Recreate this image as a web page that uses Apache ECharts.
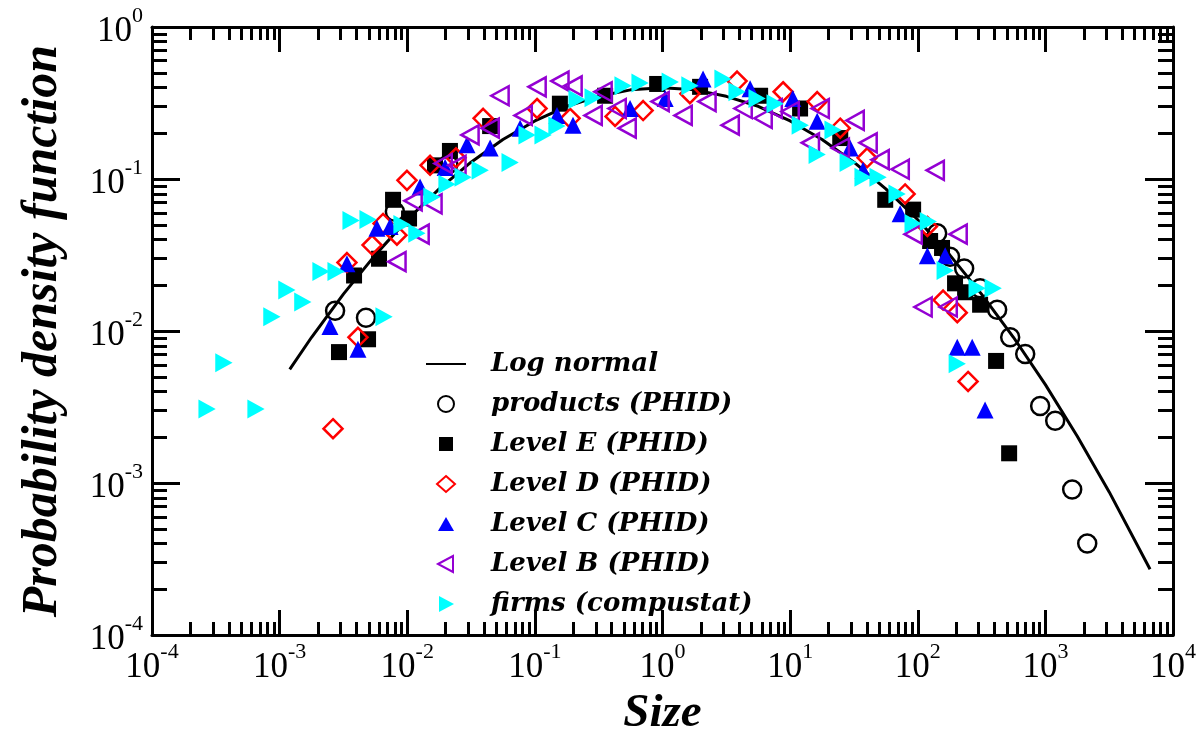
<!DOCTYPE html>
<html>
<head>
<meta charset="utf-8">
<script src="https://cdn.jsdelivr.net/npm/echarts@6/dist/echarts.min.js"></script>
<style>
html,body{margin:0;padding:0;background:#fff;}
#chart{width:1204px;height:742px;}
</style>
</head>
<body>
<div id="chart"></div>
<script>
// ---- tick values / labels ----
var xMajorTicks = [1e-4, 1e-3, 1e-2, 1e-1, 1, 10, 100, 1000, 10000];
var xTickExps = ['-4', '-3', '-2', '-1', '0', '1', '2', '3', '4'];
var yMajorTicks = [1e-4, 1e-3, 1e-2, 1e-1, 1];
var yTickExps = ['-4', '-3', '-2', '-1', '0'];
var minorMultipliers = [2, 3, 4, 5, 6, 7, 8, 9];

// ---- series values [size, pdf] ----
var logNormalData = [
  [0.0012, 0.0056], [0.00178, 0.0091], [0.00316, 0.0175], [0.00562, 0.0317], [0.01, 0.054],
  [0.0178, 0.0861], [0.0316, 0.129], [0.0562, 0.182], [0.1, 0.241], [0.178, 0.301],
  [0.316, 0.35], [0.562, 0.386], [1, 0.398], [1.78, 0.386], [3.16, 0.35], [5.62, 0.301],
  [10, 0.241], [17.8, 0.182], [31.6, 0.129], [56.2, 0.0861], [100, 0.054], [178, 0.0317],
  [316, 0.0175], [562, 0.0091], [1000, 0.00444], [1778, 0.00203], [3162, 0.000875], [6607, 0.000271]
];
var productsData = [
  [0.00272, 0.0136], [0.00475, 0.01225], [0.008, 0.061], [0.021, 0.125],
  [142, 0.044], [179, 0.0308], [231, 0.0258], [308, 0.0191],
  [419, 0.0138], [530, 0.0091], [695, 0.00706], [910, 0.00321], [1194, 0.00257],
  [1622, 0.000906], [2128, 0.0004]
];
var levelEData = [
  [0.00292, 0.00727], [0.00493, 0.00883], [0.00383, 0.0232], [0.00601, 0.0299],
  [0.00774, 0.073], [0.01033, 0.055], [0.0165, 0.123], [0.0216, 0.153], [0.0446, 0.223],
  [0.157, 0.313], [0.355, 0.353], [0.908, 0.422], [1.97, 0.404], [5.82, 0.353],
  [11.97, 0.291], [24.7, 0.186], [55.6, 0.073], [92, 0.0629], [125, 0.0391], [155, 0.0352],
  [196, 0.0206], [235, 0.018], [308, 0.0149], [411, 0.00636], [520, 0.00157]
];
var levelDData = [
  [0.00262, 0.00228], [0.00411, 0.0091], [0.00337, 0.0282], [0.0053, 0.0368],
  [0.00646, 0.051], [0.0083, 0.0427], [0.00995, 0.098], [0.0151, 0.123], [0.0241, 0.138],
  [0.0393, 0.251], [0.104, 0.291], [0.189, 0.251], [0.425, 0.258], [0.705, 0.282],
  [1.64, 0.364], [3.84, 0.441], [8.81, 0.375], [16.3, 0.323], [24.7, 0.216], [40.1, 0.138],
  [79.6, 0.0798], [119, 0.0488], [158, 0.016], [204, 0.0132], [248, 0.00466]
];
var levelCData = [
  [0.00248, 0.0107], [0.00411, 0.0076], [0.00337, 0.0277], [0.00579, 0.0474],
  [0.00733, 0.0488], [0.0126, 0.0885], [0.0198, 0.119], [0.0294, 0.168], [0.0446, 0.16],
  [0.0766, 0.216], [0.149, 0.262], [0.199, 0.226], [0.557, 0.291], [1.05, 0.338],
  [2.08, 0.455], [4.86, 0.392], [10.5, 0.338], [16.3, 0.24], [29.5, 0.16], [37.3, 0.114],
  [72.8, 0.0592], [119, 0.0313], [164, 0.0313], [204, 0.00783], [267, 0.00783], [337, 0.00303]
];
var levelBData = [
  [0.0083, 0.0286], [0.0126, 0.0434], [0.0111, 0.0719], [0.0159, 0.0687], [0.0191, 0.1265],
  [0.0245, 0.123], [0.031, 0.195], [0.0446, 0.216], [0.0533, 0.353], [0.0809, 0.262],
  [0.104, 0.404], [0.157, 0.441], [0.199, 0.41], [0.286, 0.262], [0.342, 0.375],
  [0.441, 0.291], [0.528, 0.216], [0.957, 0.323], [1.45, 0.262], [2.23, 0.323],
  [3.39, 0.226], [4.28, 0.291], [6.14, 0.251], [7.36, 0.291], [10.0, 0.278], [14.4, 0.173],
  [17.2, 0.291], [24.7, 0.16], [32.3, 0.243], [40.8, 0.173], [50.7, 0.134], [72.8, 0.116],
  [137, 0.114], [92, 0.0434], [207, 0.0434], [110, 0.0144], [173, 0.0144]
];
var firmsData = [
  [0.00027, 0.00307], [0.000366, 0.00618], [0.000653, 0.00307], [0.00087, 0.0124],
  [0.00114, 0.0186], [0.00152, 0.0155], [0.00211, 0.0246], [0.00277, 0.0246],
  [0.00363, 0.0534], [0.00493, 0.0542], [0.00658, 0.0124], [0.0091, 0.0503], [0.0119, 0.044],
  [0.0156, 0.0763], [0.0205, 0.0925], [0.0274, 0.1027], [0.0373, 0.114], [0.064, 0.1284],
  [0.0869, 0.195], [0.116, 0.195], [0.149, 0.223], [0.214, 0.333], [0.286, 0.343],
  [0.491, 0.41], [0.667, 0.428], [1.15, 0.435], [1.64, 0.41], [2.98, 0.455], [3.84, 0.375],
  [5.51, 0.338], [7.63, 0.313], [12.0, 0.226], [16.3, 0.145], [21.7, 0.21], [28.5, 0.1284],
  [37.3, 0.1027], [48.9, 0.1027], [68.9, 0.0798], [92, 0.051], [121, 0.0526], [164, 0.025],
  [204, 0.00609], [292, 0.0191], [390, 0.0191]
];

// minor tick positions built from the decade ticks
function minorTicks(majors) {
  var out = [];
  for (var i = 0; i < majors.length - 1; i++) {
    for (var j = 0; j < minorMultipliers.length; j++) out.push(majors[i] * minorMultipliers[j]);
  }
  return out;
}
var xMinorTicks = minorTicks(xMajorTicks);
var yMinorTicks = minorTicks(yMajorTicks);

var SERIF = "'Liberation Serif', 'Times New Roman', serif";
var richLabel = {
  b: { fontFamily: SERIF, fontSize: 35, lineHeight: 44, verticalAlign: 'bottom', color: '#000' },
  s: { fontFamily: SERIF, fontSize: 22, lineHeight: 22, verticalAlign: 'top', color: '#000' }
};
function xFmt(v) { var i = xMajorTicks.indexOf(v); var e = i >= 0 ? xTickExps[i] : String(Math.round(Math.log10(v))); return '{b|10}{s|' + e + '}'; }
function yFmt(v) { var i = yMajorTicks.indexOf(v); var e = i >= 0 ? yTickExps[i] : String(Math.round(Math.log10(v))); return '{b|10}{s|' + e + '}'; }

function makeX(pos, major, withLabel) {
  return {
    type: 'log', logBase: 10, min: 1e-4, max: 1e4, position: pos, gridIndex: 0,
    splitNumber: 8,
    axisLine: { show: major, lineStyle: { color: '#000', width: 3 } },
    axisTick: { show: true, inside: true, length: major ? 25 : 13,
      customValues: major ? xMajorTicks : xMinorTicks,
      lineStyle: { color: '#000', width: 3 } },
    axisLabel: withLabel ? { show: true, customValues: xMajorTicks, formatter: xFmt, rich: richLabel, margin: 6 } : { show: false },
    splitLine: { show: false },
    name: withLabel ? 'Size' : '',
    nameLocation: 'middle', nameGap: 46,
    nameTextStyle: { fontFamily: SERIF, fontStyle: 'italic', fontWeight: 'bold', fontSize: 47, color: '#000' }
  };
}
function makeY(pos, major, withLabel) {
  return {
    type: 'log', logBase: 10, min: 1e-4, max: 1, position: pos, gridIndex: 0,
    splitNumber: 4,
    axisLine: { show: major, lineStyle: { color: '#000', width: 3 } },
    axisTick: { show: true, inside: true, length: major ? 28 : 15,
      customValues: major ? yMajorTicks : yMinorTicks,
      lineStyle: { color: '#000', width: 3 } },
    axisLabel: withLabel ? { show: true, customValues: yMajorTicks, formatter: yFmt, rich: richLabel, margin: 9 } : { show: false },
    splitLine: { show: false },
    name: withLabel ? 'Probability density function' : '',
    nameLocation: 'middle', nameGap: 84, nameRotate: 90,
    nameTextStyle: { fontFamily: SERIF, fontStyle: 'italic', fontWeight: 'bold', fontSize: 50, color: '#000' }
  };
}

var TRI_LEFT = 'path://M10,0L0,5.5L10,11Z';
var TRI_RIGHT = 'path://M0,0L10,5.5L0,11Z';

// legend icons: same shapes drawn inside a 40x16 box so they are not stretched
var LEG_RECT = 'path://M0,0M40,16M13,1L27,1L27,15L13,15Z';
var LEG_DIAMOND = 'path://M0,0M40,16M20,0L29,8L20,16L11,8Z';
var LEG_TRI_UP = 'path://M0,0M40,16M20,1L28,15L12,15Z';
var LEG_TRI_LEFT = 'path://M0,0M40,16M12,8L27,0L27,16Z';
var LEG_TRI_RIGHT = 'path://M0,0M40,16M13,0L28,8L13,16Z';

function scat(name, data, symbol, size, color, hollow) {
  return {
    name: name, type: 'scatter', data: data, symbol: symbol, symbolSize: size,
    symbolKeepAspect: true,
    xAxisIndex: 0, yAxisIndex: 0, z: 2,
    itemStyle: hollow ? { color: 'rgba(0,0,0,0)', borderColor: color, borderWidth: 2.5, opacity: 1 }
                      : { color: color, opacity: 1 },
    emphasis: { disabled: true }
  };
}

var chart = echarts.init(document.getElementById('chart'), null, { renderer: 'canvas' });
chart.setOption({
  animation: false,
  backgroundColor: '#fff',
  grid: { left: 152, right: 31, top: 27, bottom: 96, containLabel: false },
  xAxis: [makeX('bottom', true, true), makeX('bottom', false, false), makeX('top', true, false), makeX('top', false, false)],
  yAxis: [makeY('left', true, true), makeY('left', false, false), makeY('right', true, false), makeY('right', false, false)],
  legend: {
    orient: 'vertical', left: 420, top: 344,
    itemWidth: 40, itemHeight: 16, itemGap: 10,
    textStyle: { fontFamily: "'DejaVu Serif', serif", fontStyle: 'italic', fontWeight: 'bold', fontSize: 26, lineHeight: 30, color: '#000', padding: [0, 0, 0, 20] },
    data: [
      { name: 'Log normal', itemStyle: { opacity: 0 } },
      'products (PHID)',
      { name: 'Level E (PHID)', icon: LEG_RECT },
      { name: 'Level D (PHID)', icon: LEG_DIAMOND },
      { name: 'Level C (PHID)', icon: LEG_TRI_UP },
      { name: 'Level B (PHID)', icon: LEG_TRI_LEFT },
      { name: 'firms (compustat)', icon: LEG_TRI_RIGHT }
    ]
  },
  series: [
    { name: 'Log normal', type: 'line', data: logNormalData, symbol: 'none', smooth: false,
      xAxisIndex: 0, yAxisIndex: 0, lineStyle: { color: '#000', width: 3 }, itemStyle: { color: '#000', opacity: 0 }, z: 1 },
    scat('products (PHID)', productsData, 'circle', 18, '#000', true),
    scat('Level E (PHID)', levelEData, 'rect', 16, '#000', false),
    scat('Level D (PHID)', levelDData, 'diamond', 19, '#ff0000', true),
    scat('Level C (PHID)', levelCData, 'triangle', 17, '#0000ff', false),
    scat('Level B (PHID)', levelBData, TRI_LEFT, 19, '#9400d3', true),
    scat('firms (compustat)', firmsData, TRI_RIGHT, 19, '#00ffff', false)
  ]
});
</script>
</body>
</html>
